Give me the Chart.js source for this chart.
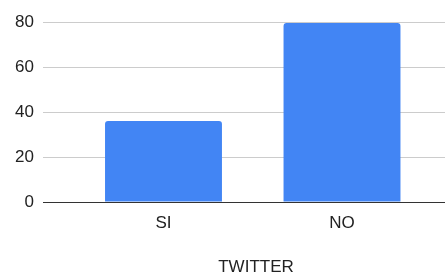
<!DOCTYPE html>
<html>
<head>
<meta charset="utf-8">
<script src="https://cdn.jsdelivr.net/npm/chart.js@4"></script>
<style>
  html, body { margin: 0; padding: 0; background: #fff; }
  #wrap { width: 445px; height: 275px; }
</style>
</head>
<body>
<div id="wrap"><canvas id="myChart" width="445" height="275"></canvas></div>
<script>
// data
const categories = ["SI", "NO"];
const values = [36, 79.6];
const yTicks = [0, 20, 40, 60, 80];
const xTitle = "TWITTER";

const FONT = "Liberation Sans, Arial";

// axis title sits a bit right of the plot centre in the original, so draw it ourselves
const xTitlePlugin = {
  id: "xTitlePlugin",
  afterDraw(chart) {
    const { ctx, chartArea } = chart;
    ctx.save();
    ctx.font = "17px " + FONT;
    ctx.fillStyle = "#222";
    ctx.textAlign = "center";
    ctx.textBaseline = "middle";
    ctx.fillText(xTitle, (chartArea.left + chartArea.right) / 2 + 12, chart.height - 8);
    ctx.restore();
  }
};

const ctx = document.getElementById("myChart").getContext("2d");

new Chart(ctx, {
  type: "bar",
  data: {
    datasets: [
      {
        data: values.map((v, i) => ({ x: i, y: v })),
        backgroundColor: "#4285F4",
        borderRadius: { topLeft: 3, topRight: 3 },
        borderSkipped: "bottom",
        categoryPercentage: 1,
        barPercentage: 0.655
      }
    ]
  },
  options: {
    responsive: false,
    animation: false,
    layout: { padding: { top: 22, right: 0, left: 0, bottom: 0 } },
    plugins: { legend: { display: false }, tooltip: { enabled: false } },
    scales: {
      x: {
        type: "linear",
        offset: false,
        min: -0.675,
        max: 1.577,
        grid: { display: false },
        border: { display: true, color: "#333", width: 1 },
        afterBuildTicks: (scale) => {
          scale.ticks = categories.map((c, i) => ({ value: i }));
        },
        afterFit: (scale) => { scale.height = 73; },
        ticks: {
          callback: (v) => categories[v],
          color: "#222",
          padding: 3,
          font: { family: FONT, size: 17 },
          maxRotation: 0
        }
      },
      y: {
        min: 0,
        max: 80,
        afterBuildTicks: (scale) => {
          scale.ticks = yTicks.map((v) => ({ value: v }));
        },
        afterFit: (scale) => { scale.width = 43; },
        grid: { color: "#cccccc", drawTicks: false },
        border: { display: false },
        ticks: {
          color: "#222",
          padding: 9,
          font: { family: FONT, size: 17 }
        }
      }
    }
  },
  plugins: [xTitlePlugin]
});
</script>
</body>
</html>
